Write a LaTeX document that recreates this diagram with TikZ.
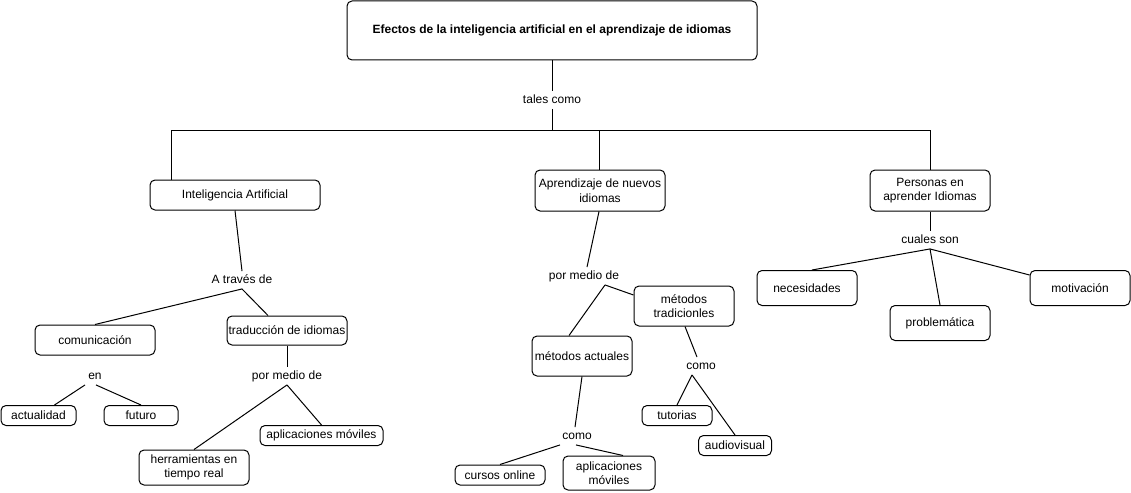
\documentclass[tikz,border=0pt]{standalone}
\usepackage{fontspec}
\setmainfont{Liberation Sans}
\tikzset{
concept/.style={draw,line width=1pt,rounded corners=5pt,align=center,inner sep=1pt,font=\fontsize{12}{14.5}\selectfont},
box/.style 2 args={minimum width=#1,minimum height=#2},
link/.style={align=center,inner xsep=2pt,inner ysep=3pt,text height=9pt,text depth=2.5pt,font=\fontsize{12}{14.5}\selectfont},
edge/.style={line width=1pt}
}
\begin{document}
\begin{tikzpicture}[x=1pt,y=-1pt]
\useasboundingbox (0,0) rectangle (1131,492);
% main topic
\node[concept,box={410}{59},font=\fontsize{12}{14.5}\selectfont\bfseries] (title) at (552,30.5) {Efectos de la inteligencia artificial en el aprendizaje de idiomas};
\node[link] (tales) at (552,100) {tales como};
\coordinate (bar) at (552,130);
\node[concept,box={170}{30}] (ia) at (235,195) {Inteligencia Artificial};
\node[concept,box={130}{41}] (apr) at (600,190.5) {Aprendizaje de nuevos\\idiomas};
\node[concept,box={120}{41}] (pers) at (930,190.5) {Personas en\\aprender Idiomas};
% left branch
\node[link] (atraves) at (242,280) {A través de};
\node[concept,box={120}{30}] (comun) at (95,340) {comunicación};
\node[concept,box={120}{29}] (trad) at (287,330.5) {traducción de idiomas};
\node[link] (en) at (95,376) {en};
\node[concept,box={75}{20}] (actual) at (38.5,415.5) {actualidad};
\node[concept,box={74}{20}] (futuro) at (141,415.5) {futuro};
\node[link] (pmda) at (287,376) {por medio de};
\node[concept,box={110}{35}] (herr) at (194,467.5) {herramientas en\\tiempo real};
\node[concept,box={123}{20}] (apla) at (321.5,435.5) {aplicaciones móviles};
% middle branch
\node[link] (pmdb) at (584,276) {por medio de};
\node[concept,box={100}{40}] (mtrad) at (684,306) {métodos\\tradicionles};
\node[concept,box={100}{40}] (mact) at (582,356) {métodos actuales};
\node[link] (comoa) at (577,436) {como};
\node[concept,box={90}{20}] (cursos) at (500,475) {cursos online};
\node[concept,box={92}{34}] (aplb) at (609,473) {aplicaciones\\móviles};
\node[link] (comob) at (701,366) {como};
\node[concept,box={70}{20}] (tut) at (677,415.5) {tutorias};
\node[concept,box={73}{20}] (audio) at (735,445.5) {audiovisual};
% right branch
\node[link] (cuales) at (930,240) {cuales son};
\node[concept,box={100}{35}] (nec) at (807,288) {necesidades};
\node[concept,box={100}{35}] (prob) at (940,323) {problemática};
\node[concept,box={100}{35}] (motiv) at (1080,288) {motivación};

\draw[edge](title.south)--(tales.north);
\draw[edge](tales.south)--(bar);
\draw[edge](bar)-|([xshift=-64]ia.north);
\draw[edge](bar)-|(pers.north);
\draw[edge]([xshift=-1]apr.north)--([xshift=-1]apr.north|-bar);
\draw[edge](ia.south)--(atraves.north);
\draw[edge](atraves.south)--(comun.north);
\draw[edge](atraves.south)--([xshift=-19]trad.north);
\draw[edge]([xshift=-10]en.south)--([xshift=16]actual.north);
\draw[edge]([xshift=1]en.south)--(futuro.north);
\draw[edge](trad.south)--(pmda.north);
\draw[edge](pmda.south)--(herr.north);
\draw[edge](pmda.south)--(apla.north);
\draw[edge]([xshift=-1]apr.south)--([xshift=3]pmdb.north);
\draw[edge]([xshift=21]pmdb.south)--([xshift=-13]mact.north);
\draw[edge]([xshift=21]pmdb.south)--([yshift=11]mtrad.west);
\draw[edge](mact.south)--([xshift=-2]comoa.north);
\draw[edge]([xshift=-17]comoa.south)--(cursos.north);
\draw[edge]([xshift=-1]comoa.south)--([xshift=14]aplb.north);
\draw[edge]([xshift=1]mtrad.south)--([xshift=-4]comob.north);
\draw[edge]([xshift=-9]comob.south)--(tut.north);
\draw[edge]([xshift=-9]comob.south)--(audio.north);
\draw[edge](pers.south)--(cuales.north);
\draw[edge](cuales.south)--([xshift=5]nec.north);
\draw[edge](cuales.south)--(prob.north);
\draw[edge](cuales.south)--([yshift=13]motiv.west);
\end{tikzpicture}
\end{document}
